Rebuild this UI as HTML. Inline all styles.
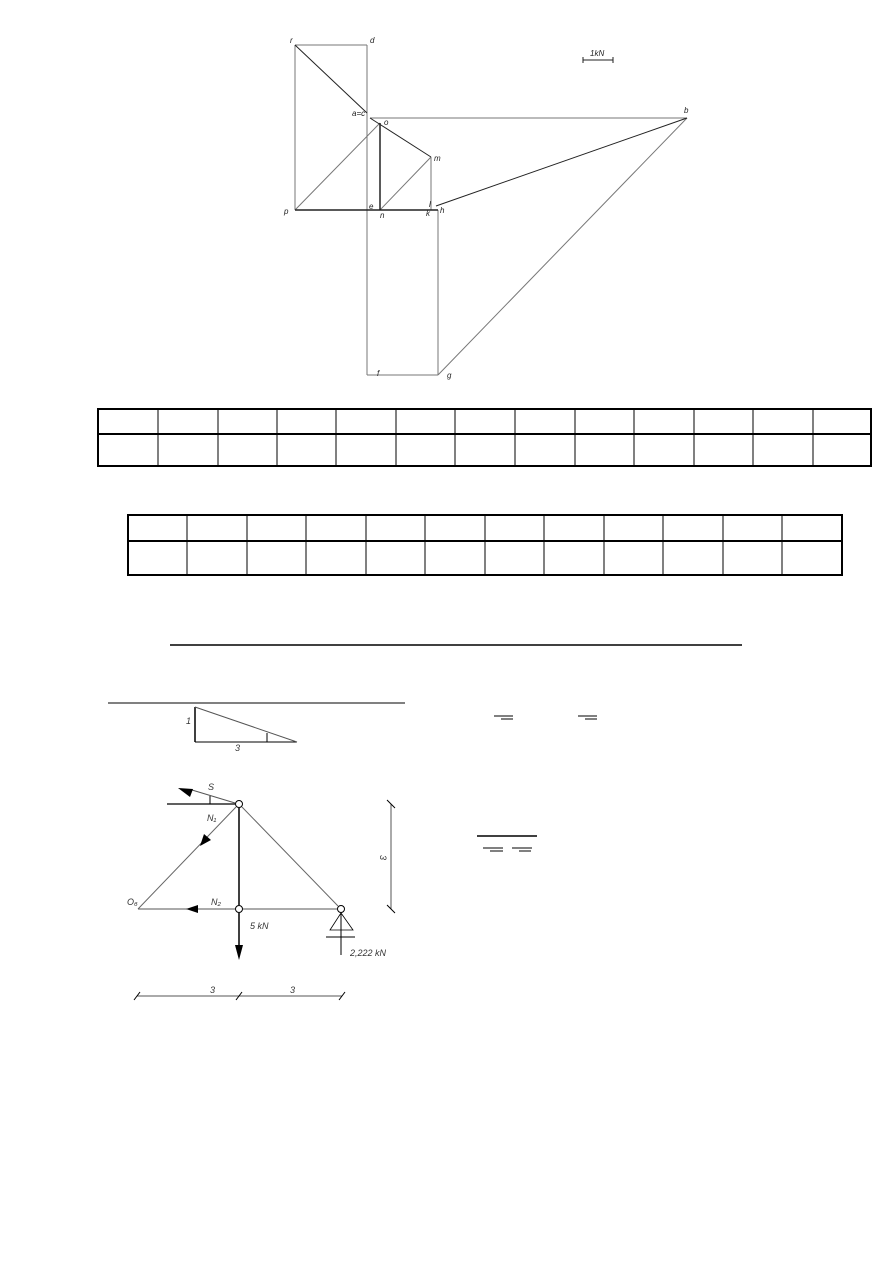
<!DOCTYPE html>
<html><head><meta charset="utf-8"><style>body{margin:0;background:#fff}svg{display:block}</style></head><body>
<svg width="893" height="1263" viewBox="0 0 893 1263" xmlns="http://www.w3.org/2000/svg" font-family="Liberation Sans, sans-serif" font-style="italic">
<g stroke="#777" stroke-width="1" fill="none">
<line x1="295" y1="45" x2="367" y2="45"/>
<line x1="295" y1="45" x2="295" y2="210"/>
<line x1="367" y1="45" x2="367" y2="375"/>
<line x1="370" y1="118" x2="687" y2="118"/>
<line x1="295" y1="210" x2="380" y2="123"/>
<line x1="380" y1="210" x2="431" y2="157"/>
<line x1="431" y1="157" x2="431" y2="210"/>
<line x1="438" y1="210" x2="438" y2="375"/>
<line x1="367" y1="375" x2="438" y2="375"/>
<line x1="438" y1="375" x2="687" y2="118"/>
</g>
<g stroke="#222" fill="none">
<line x1="295" y1="45" x2="367" y2="113"/>
<line x1="370" y1="118" x2="431" y2="157"/>
<line x1="380" y1="123" x2="380" y2="210" stroke-width="1.5"/>
<line x1="295" y1="210" x2="438" y2="210" stroke-width="1.5"/>
<line x1="687" y1="118" x2="436" y2="206"/>
<line x1="583" y1="60" x2="613" y2="60"/><line x1="583" y1="57" x2="583" y2="63"/><line x1="613" y1="57" x2="613" y2="63"/>
</g>
<g font-size="8" fill="#222">
<text x="290" y="43">r</text><text x="370" y="43">d</text><text x="352" y="116">a=c</text>
<text x="384" y="125">o</text><text x="434" y="161">m</text><text x="684" y="113">b</text>
<text x="284" y="214">p</text><text x="369" y="209">e</text><text x="380" y="218">n</text>
<text x="426" y="216">k</text><text x="429" y="207">l</text><text x="440" y="213">h</text>
<text x="377" y="376">f</text><text x="447" y="378">g</text><text x="590" y="56">1kN</text>
</g>
<g stroke="#000" stroke-width="2" fill="none">
<rect x="98" y="409" width="773" height="57"/><line x1="98" y1="434" x2="871" y2="434"/>
<rect x="128" y="515" width="714" height="60"/><line x1="128" y1="541" x2="842" y2="541"/>
</g>
<g stroke="#000" stroke-width="1">
<line x1="158" y1="409" x2="158" y2="466"/><line x1="218" y1="409" x2="218" y2="466"/><line x1="277" y1="409" x2="277" y2="466"/><line x1="336" y1="409" x2="336" y2="466"/><line x1="396" y1="409" x2="396" y2="466"/><line x1="455" y1="409" x2="455" y2="466"/><line x1="515" y1="409" x2="515" y2="466"/><line x1="575" y1="409" x2="575" y2="466"/><line x1="634" y1="409" x2="634" y2="466"/><line x1="694" y1="409" x2="694" y2="466"/><line x1="753" y1="409" x2="753" y2="466"/><line x1="813" y1="409" x2="813" y2="466"/>
<line x1="187" y1="515" x2="187" y2="575"/><line x1="247" y1="515" x2="247" y2="575"/><line x1="306" y1="515" x2="306" y2="575"/><line x1="366" y1="515" x2="366" y2="575"/><line x1="425" y1="515" x2="425" y2="575"/><line x1="485" y1="515" x2="485" y2="575"/><line x1="544" y1="515" x2="544" y2="575"/><line x1="604" y1="515" x2="604" y2="575"/><line x1="663" y1="515" x2="663" y2="575"/><line x1="723" y1="515" x2="723" y2="575"/><line x1="782" y1="515" x2="782" y2="575"/>
<line x1="170" y1="645" x2="742" y2="645" stroke-width="1.5"/>
<line x1="108" y1="703" x2="405" y2="703"/>
<line x1="494" y1="716" x2="513" y2="716"/><line x1="501" y1="719" x2="513" y2="719"/>
<line x1="578" y1="716" x2="597" y2="716"/><line x1="585" y1="719" x2="597" y2="719"/>
<line x1="477" y1="836" x2="537" y2="836" stroke-width="1.5"/>
<line x1="483" y1="848" x2="503" y2="848"/><line x1="490" y1="851" x2="503" y2="851"/>
<line x1="512" y1="848" x2="532" y2="848"/><line x1="519" y1="851" x2="531" y2="851"/>
</g>
<g stroke="#000" fill="none">
<line x1="195" y1="707" x2="195" y2="742" stroke-width="1.5"/><line x1="195" y1="742" x2="297" y2="742"/><line x1="195" y1="707" x2="297" y2="742" stroke="#555"/>
<line x1="267" y1="733" x2="267" y2="742"/>
<line x1="167" y1="804" x2="235" y2="804" stroke-width="1.2"/>
<line x1="235" y1="803" x2="192" y2="790" stroke="#555"/>
<line x1="210" y1="796" x2="210" y2="804"/>
<line x1="236" y1="807" x2="138" y2="909" stroke="#666"/>
<line x1="242" y1="807" x2="338" y2="906" stroke="#666"/>
<line x1="239" y1="808" x2="239" y2="905" stroke-width="1.5"/>
<line x1="138" y1="909" x2="235" y2="909" stroke="#555"/>
<line x1="243" y1="909" x2="337" y2="909" stroke="#555"/>
<line x1="239" y1="913" x2="239" y2="945" stroke-width="1.5"/>
<circle cx="239" cy="804" r="3.5"/><circle cx="239" cy="909" r="3.5"/><circle cx="341" cy="909" r="3.5"/>
<path d="M341 913 L330 930 L353 930 Z" stroke-width="0.8"/>
<line x1="326" y1="937" x2="355" y2="937"/>
<line x1="341" y1="913" x2="341" y2="955"/>
<line x1="391" y1="804" x2="391" y2="909" stroke="#555"/>
<line x1="387" y1="800" x2="395" y2="808"/><line x1="387" y1="905" x2="395" y2="913"/>
<line x1="137" y1="996" x2="342" y2="996" stroke="#555"/>
<line x1="134" y1="1000" x2="140" y2="992"/><line x1="236" y1="1000" x2="242" y2="992"/><line x1="339" y1="1000" x2="345" y2="992"/>
</g>
<g fill="#000">
<path d="M178 788 L193 789 L190 797 Z"/>
<path d="M200 846 L211 840 L204 834 Z"/>
<path d="M186 909 L198 905 L198 913 Z"/>
<path d="M239 960 L235 945 L243 945 Z"/>
</g>
<g font-size="9" fill="#333">
<text x="186" y="724">1</text><text x="235" y="751">3</text>
<text x="208" y="790">S</text><text x="207" y="821">N₁</text><text x="127" y="905">O₆</text>
<text x="211" y="905">N₂</text><text x="250" y="929">5 kN</text><text x="350" y="956">2,222 kN</text>
<text x="210" y="993">3</text><text x="290" y="993">3</text>
<text x="380" y="855" transform="rotate(90 380 855)">3</text>
</g>
</svg>
</body></html>
